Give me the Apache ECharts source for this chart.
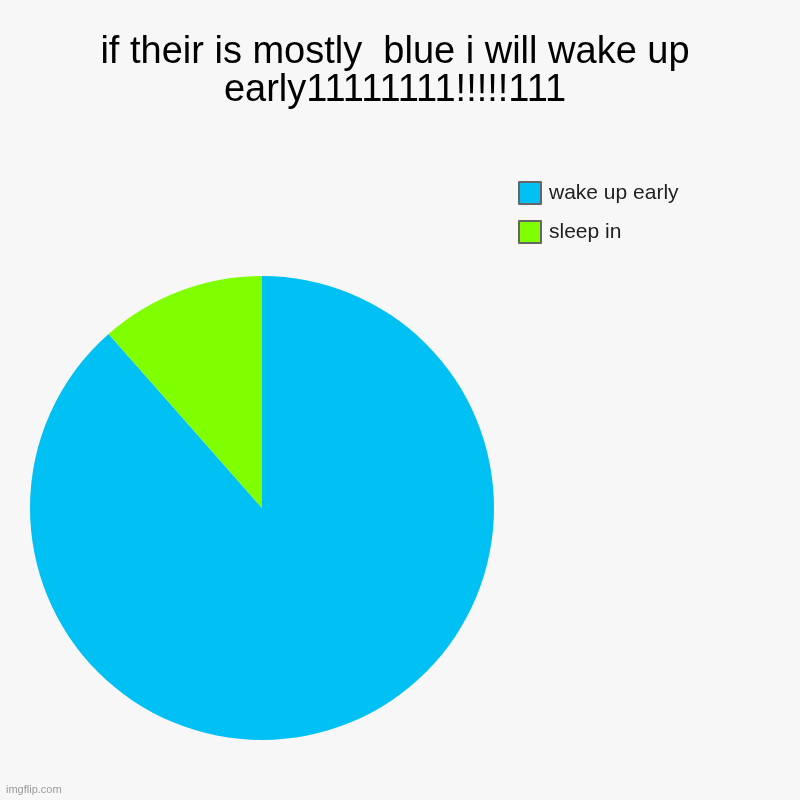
<!DOCTYPE html>
<html>
<head>
<meta charset="utf-8">
<script src="https://cdn.jsdelivr.net/npm/echarts@6/dist/echarts.min.js"></script>
<style>
    html, body { margin: 0; padding: 0; background: #f7f7f7; }
    #chart { width: 800px; height: 800px; }
</style>
</head>
<body>
<div id="chart"></div>
<script>
var titleText = 'if their is mostly  blue i will wake up\nearly11111111!!!!!111';
var categories = ['wake up early', 'sleep in'];
var values = [88.5, 11.5];
var colors = ['#00c0f4', '#80ff00'];

(function () {
    var chart = echarts.init(document.getElementById('chart'));

    var pieData = [];
    for (var i = 0; i < categories.length; i++) {
        pieData.push({
            name: categories[i],
            value: values[i],
            itemStyle: { color: colors[i] }
        });
    }

    chart.setOption({
        animation: false,
        backgroundColor: '#f7f7f7',
        title: {
            text: titleText,
            left: 390,
            top: 29,
            textAlign: 'center',
            textStyle: {
                fontFamily: 'Arial, Liberation Sans',
                fontSize: 38,
                fontWeight: 'normal',
                color: '#000',
                lineHeight: 38
            }
        },
        legend: {
            orient: 'vertical',
            left: 518,
            top: 181,
            padding: 0,
            icon: 'rect',
            itemWidth: 22,
            itemHeight: 22,
            itemGap: 15,
            data: categories,
            itemStyle: { borderColor: '#666', borderWidth: 2 },
            textStyle: {
                fontFamily: 'Arial, Liberation Sans',
                fontSize: 21,
                color: '#222',
                padding: [0, 0, 0, 3]
            }
        },
        graphic: [{
            type: 'text',
            left: 6,
            top: 784,
            style: {
                text: 'imgflip.com',
                fill: '#9a9a9a',
                font: '11px Arial, Liberation Sans'
            }
        }],
        series: [{
            type: 'pie',
            center: [262, 508],
            radius: 232,
            startAngle: 90,
            clockwise: true,
            label: { show: false },
            labelLine: { show: false },
            emphasis: { disabled: true },
            silent: true,
            data: pieData
        }]
    });
})();
</script>
</body>
</html>
